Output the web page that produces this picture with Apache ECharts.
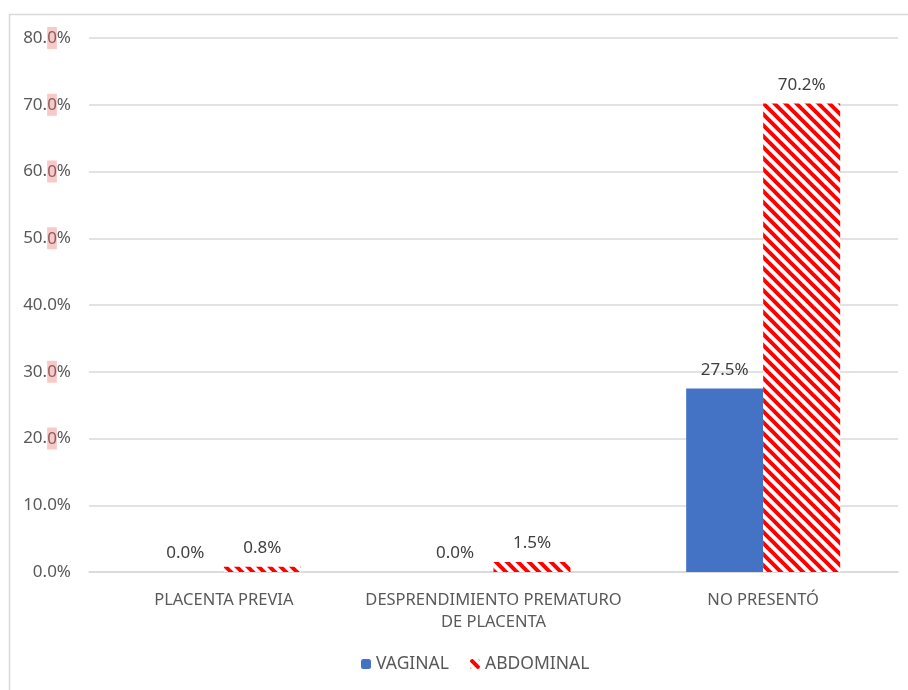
<!DOCTYPE html>
<html>
<head>
<meta charset="utf-8">
<script src="https://cdn.jsdelivr.net/npm/echarts@6/dist/echarts.min.js"></script>
<style>
html,body{margin:0;padding:0;background:#fff;}
#c{width:908px;height:690px;}
</style>
</head>
<body>
<div id="c"></div>
<script>
var categories = ['PLACENTA PREVIA', 'DESPRENDIMIENTO PREMATURO\nDE PLACENTA', 'NO PRESENTÓ'];
var vaginal = [0.0, 0.0, 27.5];
var abdominal = [0.8, 1.5, 70.2];
var yTicks = [0, 10, 20, 30, 40, 50, 60, 70, 80];
var highlightedTicks = [80, 70, 60, 50, 30, 20];

function makeHatch() {
  var s = 11;
  var cv = document.createElement('canvas');
  cv.width = s; cv.height = s;
  var ctx = cv.getContext('2d');
  ctx.fillStyle = '#ffffff';
  ctx.fillRect(0, 0, s, s);
  ctx.strokeStyle = '#ff0000';
  ctx.lineWidth = 4;
  for (var c = -s; c <= s; c += s) {
    ctx.beginPath();
    ctx.moveTo(-2, -2 + c);
    ctx.lineTo(s + 2, s + 2 + c);
    ctx.stroke();
  }
  return cv;
}
var hatch = makeHatch();

var chart = echarts.init(document.getElementById('c'), null, {renderer: 'canvas'});
var font = 'Noto Sans';
chart.setOption({
  animation: false,
  textStyle: {fontFamily: font},
  graphic: [{
    type: 'rect',
    shape: {x: 9.5, y: 14.5, width: 1000, height: 1000},
    style: {fill: 'none', stroke: '#d9d9d9', lineWidth: 1.5},
    silent: true
  }],
  grid: {left: 89, right: 10, top: 38, bottom: 118, containLabel: false},
  legend: {
    bottom: 12,
    left: 356,
    itemWidth: 10,
    itemHeight: 10,
    itemGap: 21,
    textStyle: {color: '#595959', fontSize: 17.5, fontFamily: font, padding: [0, 0, 0, 0]},
    data: ['VAGINAL', 'ABDOMINAL']
  },
  xAxis: {
    type: 'category',
    data: categories,
    axisLine: {show: true, lineStyle: {color: '#d9d9d9', width: 1.5}},
    axisTick: {show: false},
    axisLabel: {color: '#595959', fontSize: 16.5, margin: 17, lineHeight: 22, fontFamily: font, interval: 0}
  },
  yAxis: {
    type: 'value',
    min: 0,
    max: 80,
    interval: 10,
    axisLine: {show: false},
    axisTick: {show: false},
    splitLine: {lineStyle: {color: '#d9d9d9', width: 1.5}},
    axisLabel: {
      margin: 18,
      formatter: function (v) {
        var s = v.toFixed(1);
        if (highlightedTicks.indexOf(v) >= 0) {
          return '{a|' + s.slice(0, s.length - 1) + '}{h|' + s.slice(-1) + '}{a|%}';
        }
        return '{a|' + s + '%}';
      },
      rich: {
        a: {color: '#595959', fontSize: 17, fontFamily: font},
        h: {color: '#8a5c5c', fontSize: 17, fontFamily: font, backgroundColor: '#f9c9c9', padding: [3, 0, 2, 0]}
      }
    }
  },
  series: [
    {
      name: 'VAGINAL',
      type: 'bar',
      data: vaginal,
      barWidth: 77,
      barGap: '0%',
      itemStyle: {color: '#4472c4'},
      label: {show: true, position: 'top', distance: 10, color: '#404040', fontSize: 17, fontFamily: font,
        formatter: function (p) { return p.value.toFixed(1) + '%'; }}
    },
    {
      name: 'ABDOMINAL',
      type: 'bar',
      data: abdominal,
      barWidth: 77,
      barGap: '0%',
      itemStyle: {color: {image: hatch, repeat: 'repeat'}},
      label: {show: true, position: 'top', distance: 10, color: '#404040', fontSize: 17, fontFamily: font,
        formatter: function (p) { return p.value.toFixed(1) + '%'; }}
    }
  ]
});
</script>
</body>
</html>
